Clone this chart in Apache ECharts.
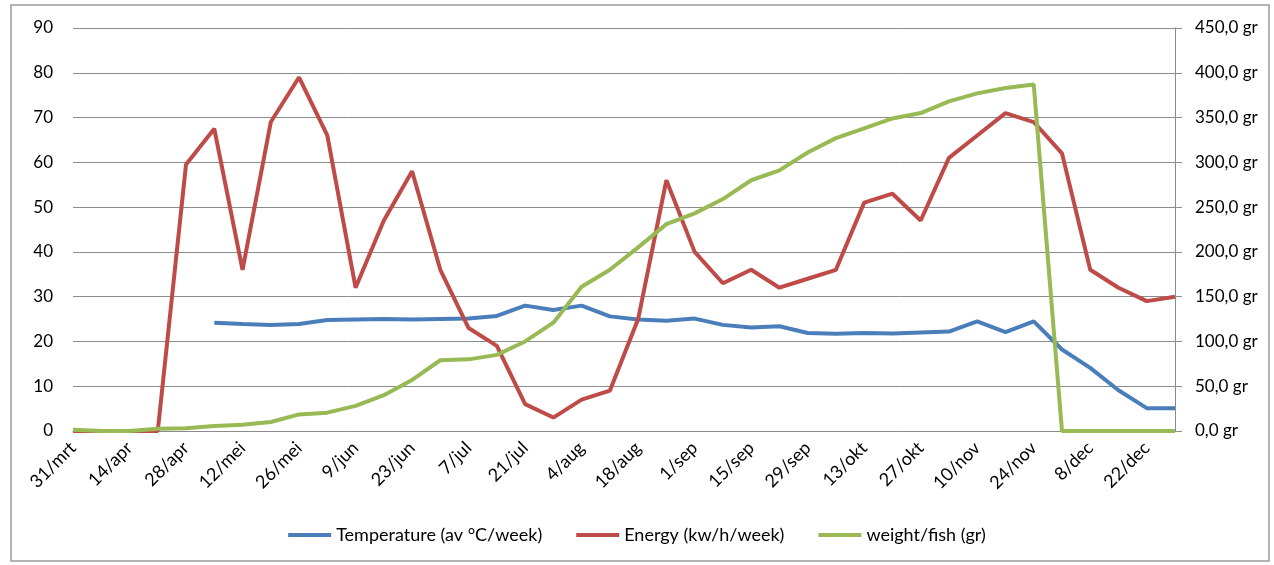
<!DOCTYPE html>
<html>
<head>
<meta charset="utf-8">
<script src="https://cdn.jsdelivr.net/npm/echarts@6/dist/echarts.min.js"></script>
<style>
  html, body { margin: 0; padding: 0; background: #fff; }
  .main { width: 1274px; height: 565px; }
</style>
</head>
<body>
<div class="main"></div>
<script>
var weeks = [
  '31/mrt', '7/apr', '14/apr', '21/apr', '28/apr', '5/mei', '12/mei', '19/mei',
  '26/mei', '2/jun', '9/jun', '16/jun', '23/jun', '30/jun', '7/jul', '14/jul',
  '21/jul', '28/jul', '4/aug', '11/aug', '18/aug', '25/aug', '1/sep', '8/sep',
  '15/sep', '22/sep', '29/sep', '6/okt', '13/okt', '20/okt', '27/okt', '3/nov',
  '10/nov', '17/nov', '24/nov', '1/dec', '8/dec', '15/dec', '22/dec', '29/dec'
];

// gemiddelde temperatuur per week
var temperature = [
  null, null, null, null, null, 24.2, 23.9, 23.7, 23.9, 24.8,
  24.9, 25.0, 24.9, 25.0, 25.1, 25.7, 28.0, 27.0, 28.0, 25.6,
  24.9, 24.6, 25.1, 23.7, 23.1, 23.4, 21.9, 21.7, 21.9, 21.8,
  22.0, 22.2, 24.5, 22.1, 24.5, 18.2, 14.1, 9.1, 5.1, 5.1
];

var energy = [
  0, 0, 0, 0, 59.5, 67.5, 36, 69, 79, 66,
  32, 47, 58, 36, 23, 19, 6, 3, 7, 9,
  25, 56, 40, 33, 36, 32, 34, 36, 51, 53,
  47, 61, 66, 71, 69, 62, 36, 32, 29, 30
];

var weight = [
  1.5, 0, 0, 2.5, 3, 5.5, 7, 10, 18.5, 20.5,
  28, 40, 57, 79, 80, 85, 100, 121, 161, 180,
  205, 231, 243, 259, 280, 291, 311, 327, 338, 349,
  355, 368, 377, 383, 387, 0, 0, 0, 0, 0
];

var leftTicks = { min: 0, max: 90, interval: 10 };
var rightTicks = { min: 0, max: 450, interval: 50 };

var font = 'Lato, "Open Sans", sans-serif';

var myChart = echarts.init(document.querySelector('.main'));

var option = {
  animation: false,
  textStyle: { fontFamily: font },
  graphic: [{
    type: 'rect',
    shape: { x: 11, y: 5, width: 1258, height: 556 },
    style: { fill: 'none', stroke: '#9a9a9a', lineWidth: 1.5 },
    silent: true
  }],
  grid: { left: 73, right: 99, top: 28, bottom: 134, containLabel: false },
  legend: {
    top: 521,
    left: 'center',
    icon: 'rect',
    itemWidth: 43,
    itemHeight: 4,
    itemGap: 34,
    textStyle: { fontFamily: font, fontSize: 18, color: '#000' },
    data: ['Temperature (av °C/week)', 'Energy (kw/h/week)', 'weight/fish (gr)']
  },
  xAxis: {
    type: 'category',
    data: weeks,
    boundaryGap: false,
    axisLine: { lineStyle: { color: '#8c8c8c', width: 1 } },
    axisTick: { show: false },
    axisLabel: {
      interval: 1,
      rotate: 45,
      margin: 14,
      fontFamily: font,
      fontSize: 18,
      color: '#000'
    }
  },
  yAxis: [{
    type: 'value',
    min: leftTicks.min,
    max: leftTicks.max,
    interval: leftTicks.interval,
    axisLine: { show: false },
    axisTick: { show: false },
    axisLabel: { margin: 20, fontFamily: font, fontSize: 17, color: '#000' },
    splitLine: { lineStyle: { color: '#8c8c8c', width: 1 } }
  }, {
    type: 'value',
    position: 'right',
    min: rightTicks.min,
    max: rightTicks.max,
    interval: rightTicks.interval,
    axisLine: { show: true, lineStyle: { color: '#8c8c8c', width: 1 } },
    axisTick: { show: true, length: 7, lineStyle: { color: '#8c8c8c' } },
    axisLabel: {
      margin: 20,
      fontFamily: font,
      fontSize: 17,
      color: '#000',
      formatter: function (v) { return v.toFixed(1).replace('.', ',') + ' gr'; }
    },
    splitLine: { show: false }
  }],
  series: [{
    name: 'Temperature (av °C/week)',
    type: 'line',
    yAxisIndex: 0,
    data: temperature,
    symbol: 'none',
    lineStyle: { color: '#4a7ebb', width: 4 },
    itemStyle: { color: '#4a7ebb' }
  }, {
    name: 'Energy (kw/h/week)',
    type: 'line',
    yAxisIndex: 0,
    data: energy,
    symbol: 'none',
    lineStyle: { color: '#be4b48', width: 4 },
    itemStyle: { color: '#be4b48' }
  }, {
    name: 'weight/fish (gr)',
    type: 'line',
    yAxisIndex: 1,
    data: weight,
    symbol: 'none',
    lineStyle: { color: '#98b954', width: 4 },
    itemStyle: { color: '#98b954' }
  }]
};

myChart.setOption(option);
</script>
</body>
</html>
